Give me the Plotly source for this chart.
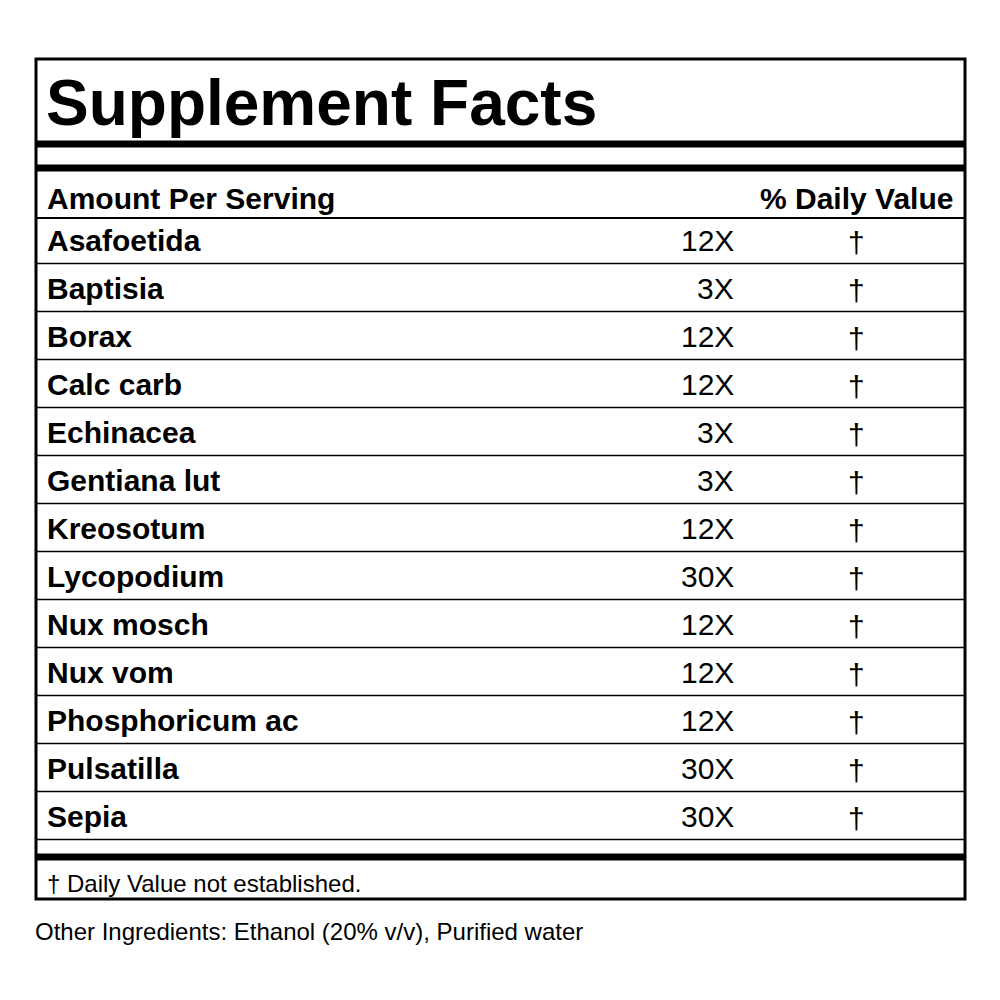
import plotly.graph_objects as go

ingredients = ["Asafoetida", "Baptisia", "Borax", "Calc carb", "Echinacea",
               "Gentiana lut", "Kreosotum", "Lycopodium", "Nux mosch", "Nux vom",
               "Phosphoricum ac", "Pulsatilla", "Sepia"]
potencies = ["12X", "3X", "12X", "12X", "3X", "3X", "12X", "30X", "12X", "12X",
             "12X", "30X", "30X"]
daily_values = ["†"] * len(ingredients)

title = "Supplement Facts"
header_left = "Amount Per Serving"
header_right = "% Daily Value"
footnote = "† Daily Value not established."
other = "Other Ingredients: Ethanol (20% v/v), Purified water"

FONT = "Liberation Sans, Arial, sans-serif"
LEFT, RIGHT, TOP, BOTTOM = 36, 965, 59, 899
ROW_H = 48
FIRST_ROW = 240
OFF = 8  # page body margin

fig = go.Figure()
shapes = []
ann = []


def hline(y, w):
    shapes.append(dict(type="line", x0=LEFT, x1=RIGHT, y0=y, y1=y,
                       line=dict(color="black", width=w)))


def text(x, y, s, size, bold=False, anchor="left"):
    ann.append(dict(x=x, y=y, text=f"<b>{s}</b>" if bold else s, showarrow=False,
                    xanchor=anchor, yanchor="middle",
                    font=dict(family=FONT, size=size, color="black")))


# outer box
shapes.append(dict(type="rect", x0=LEFT, x1=RIGHT, y0=TOP, y1=BOTTOM,
                   line=dict(color="black", width=3)))
hline(144, 7)
hline(168, 7)
hline(218, 2)

text(44, 103, title, 64, bold=True)
text(45, 198, header_left, 30, bold=True)
text(955, 198, header_right, 30, bold=True, anchor="right")

for i, (name, pot, dv) in enumerate(zip(ingredients, potencies, daily_values)):
    yc = FIRST_ROW + i * ROW_H
    text(45, yc, name, 30, bold=True)
    text(736, yc, pot, 30, anchor="right")
    text(856, yc + 2, dv, 30, anchor="center")
    hline(yc + 23.5, 1.3)

hline(857, 7)
text(45, 883, footnote, 24)
text(33, 931, other, 24)

fig.update_layout(
    width=1000, height=1000, margin=dict(l=0, r=0, t=0, b=0),
    plot_bgcolor="white", paper_bgcolor="white",
    xaxis=dict(range=[OFF, 1000 + OFF], visible=False, fixedrange=True),
    yaxis=dict(range=[1000 + OFF, OFF], visible=False, fixedrange=True),
    shapes=shapes, annotations=ann, showlegend=False,
)
fig.write_html("out.html")
